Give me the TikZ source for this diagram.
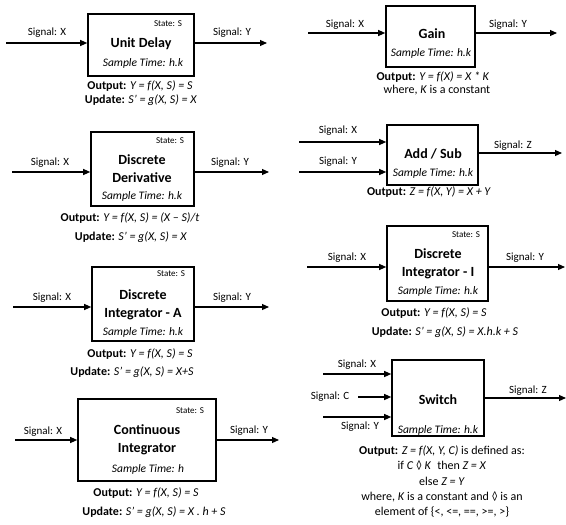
\documentclass[tikz,border=0pt]{standalone}
\usepackage{fontspec}
\setmainfont{Carlito}
\usetikzlibrary{arrows.meta}
\begin{document}
\begin{tikzpicture}[x=1pt,y=-1pt,
  blk/.style={draw, line width=1.6pt, inner sep=0pt},
  sig/.style={-{Triangle[length=7pt,width=6pt]}, line width=1.1pt},
  lbl/.style={font=\fontsize{11}{13}\selectfont, inner sep=0pt},
  ttl/.style={font=\fontsize{14}{18}\selectfont\bfseries, align=center, inner sep=0pt},
  st/.style={font=\fontsize{9}{10}\selectfont, inner sep=0pt},
  smp/.style={font=\fontsize{11.5}{13}\selectfont\itshape, inner sep=0pt},
  eq/.style={font=\fontsize{12}{15.25}\selectfont, inner sep=0pt, align=center},
]
\useasboundingbox (0,0) rectangle (566,525);

% ---------- Unit Delay ----------
\node[blk, minimum width=106pt, minimum height=62pt] (ud) at (141,45) {};
\coordinate (udin) at (6,43);
\coordinate (udout) at (267,43);
\draw[sig] (udin) -- (udin -| ud.west);
\draw[sig] (udout -| ud.east) -- (udout);
\node[lbl] (udx) at (47,33) {Signal: X};
\node[lbl] (udy) at (232,33) {Signal: Y};
\node[st] (uds) at (168,24) {State: S};
\node[ttl] (udt) at (141,44) {Unit Delay};
\node[smp] (udh) at (143,63) {Sample Time: h.k};
\node[eq] (udo) at (140,86) {\textbf{Output:} \textit{Y = f(X, S) = S}};
\node[eq] (udu) at (141,100) {\textbf{Update:} \textit{S’ = g(X, S) = X}};

% ---------- Discrete Derivative ----------
\node[blk, minimum width=103pt, minimum height=74pt] (dd) at (142.5,169) {};
\coordinate (ddin) at (12,172);
\coordinate (ddout) at (269,172);
\draw[sig] (ddin) -- (ddin -| dd.west);
\draw[sig] (ddout -| dd.east) -- (ddout);
\node[lbl] (ddx) at (50,163) {Signal: X};
\node[lbl] (ddy) at (230,163) {Signal: Y};
\node[st] (dds) at (170,141) {State: S};
\node[ttl] (ddt) at (142,168.5) {Discrete\\Derivative};
\node[smp] (ddh) at (142,196) {Sample Time: h.k};
\node[eq] (ddo) at (130,218) {\textbf{Output:} \textit{Y = f(X, S) = (X – S)/t}};
\node[eq] (ddu) at (131,237) {\textbf{Update:} \textit{S’ = g(X, S) = X}};

% ---------- Discrete Integrator - A ----------
\node[blk, minimum width=102pt, minimum height=74pt] (da) at (143,304) {};
\coordinate (dain) at (13,307);
\coordinate (daout) at (269,307);
\draw[sig] (dain) -- (dain -| da.west);
\draw[sig] (daout -| da.east) -- (daout);
\node[lbl] (dax) at (52,298) {Signal: X};
\node[lbl] (day) at (232,298) {Signal: Y};
\node[st] (das) at (171,274) {State: S};
\node[ttl] (dat) at (143,304.5) {Discrete\\Integrator - A};
\node[smp] (dah) at (143,332) {Sample Time: h.k};
\node[eq] (dao) at (140,354) {\textbf{Output:} \textit{Y = f(X, S) = S}};
\node[eq] (dau) at (132,372) {\textbf{Update:} \textit{S’ = g(X, S) = X+S}};

% ---------- Continuous Integrator ----------
\node[blk, minimum width=138pt, minimum height=82pt] (ci) at (147,440) {};
\coordinate (ciin) at (15,440);
\coordinate (ciout) at (279,440);
\draw[sig] (ciin) -- (ciin -| ci.west);
\draw[sig] (ciout -| ci.east) -- (ciout);
\node[lbl] (cix) at (43,432) {Signal: X};
\node[lbl] (ciy) at (249,431) {Signal: Y};
\node[st] (cis) at (190,411) {State: S};
\node[ttl] (cit) at (147,440) {Continuous\\Integrator};
\node[smp] (cih) at (148,469) {Sample Time: h};
\node[eq] (cio) at (146,493) {\textbf{Output:} \textit{Y = f(X, S) = S}};
\node[eq] (ciu) at (154,512) {\textbf{Update:} \textit{S’ = g(X, S) = X . h + S}};

% ---------- Gain ----------
\node[blk, minimum width=89pt, minimum height=61pt] (gn) at (430.5,36.5) {};
\coordinate (gnin) at (308,33);
\coordinate (gnout) at (557,33);
\draw[sig] (gnin) -- (gnin -| gn.west);
\draw[sig] (gnout -| gn.east) -- (gnout);
\node[lbl] (gnx) at (345,25) {Signal: X};
\node[lbl] (gny) at (508,25) {Signal: Y};
\node[ttl] (gnt) at (432,34) {Gain};
\node[smp] (gnh) at (431,53) {Sample Time: h.k};
\node[eq] (gno) at (433,77) {\textbf{Output:} \textit{Y = f(X) = X * K}};
\node[eq] (gnw) at (437,90) {where, \textit{K} is a constant};

% ---------- Add / Sub ----------
\node[blk, minimum width=91pt, minimum height=60pt] (as) at (432.5,155) {};
\coordinate (asinx) at (299,142);
\coordinate (asiny) at (299,172);
\coordinate (asout) at (562,153);
\draw[sig] (asinx) -- (asinx -| as.west);
\draw[sig] (asiny) -- (asiny -| as.west);
\draw[sig] (asout -| as.east) -- (asout);
\node[lbl] (asx) at (338,131) {Signal: X};
\node[lbl] (asy) at (338,162) {Signal: Y};
\node[lbl] (asz) at (513,146) {Signal: Z};
\node[ttl] (ast) at (433,154) {Add / Sub};
\node[smp] (ash) at (433,173) {Sample Time: h.k};
\node[eq] (aso) at (429,192) {\textbf{Output:} \textit{Z = f(X, Y) = X + Y}};

% ---------- Discrete Integrator - I ----------
\node[blk, minimum width=101pt, minimum height=75pt] (di) at (437.5,263.5) {};
\coordinate (diin) at (307,267);
\coordinate (diout) at (565,267);
\draw[sig] (diin) -- (diin -| di.west);
\draw[sig] (diout -| di.east) -- (diout);
\node[lbl] (dix) at (347,258) {Signal: X};
\node[lbl] (diy) at (525,258) {Signal: Y};
\node[st] (dis) at (466,235) {State: S};
\node[ttl] (dit) at (438,264) {Discrete\\Integrator - I};
\node[smp] (dih) at (438,291) {Sample Time: h.k};
\node[eq] (dio) at (434,313) {\textbf{Output:} \textit{Y = f(X, S) = S}};
\node[eq] (diu) at (445,332) {\textbf{Update:} \textit{S’ = g(X, S) = X.h.k + S}};

% ---------- Switch ----------
\node[blk, minimum width=92pt, minimum height=76pt] (sw) at (438,398) {};
\coordinate (swinx) at (323,374);
\coordinate (swinc) at (358,397);
\coordinate (swiny) at (323,417);
\coordinate (swout) at (566,398);
\draw[sig] (swinx) -- (swinx -| sw.west);
\draw[sig] (swinc) -- (swinc -| sw.west);
\draw[sig] (swiny) -- (swiny -| sw.west);
\draw[sig] (swout -| sw.east) -- (swout);
\node[lbl] (swx) at (357,365) {Signal: X};
\node[lbl] (swc) at (330,397) {Signal: C};
\node[lbl] (swy) at (360,427) {Signal: Y};
\node[lbl] (swz) at (528,391) {Signal: Z};
\node[ttl] (swt) at (438,400) {Switch};
\node[smp] (swh) at (438,430) {Sample Time: h.k};
\node[eq] (swo) at (442,481.5) {%
  \textbf{Output:} \textit{Z = f(X, Y, C)} is defined as:\\
  if \textit{C ◊ K}\enspace then \textit{Z = X}\\
  else \textit{Z = Y}\\
  where, \textit{K} is a constant and \textit{◊} is an\\
  element of \{<, <=, ==, >=, >\}};
\end{tikzpicture}
\end{document}
